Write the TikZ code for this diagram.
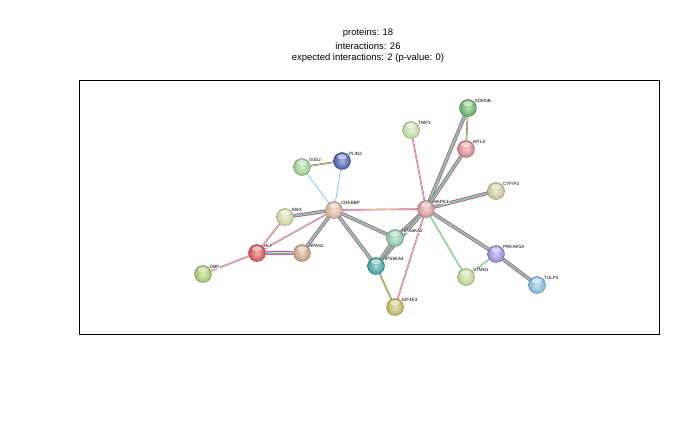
\documentclass[tikz,border=0pt]{standalone}
\usepackage{fontspec}
\setmainfont{Liberation Sans}
\definecolor{cKDM}{RGB}{105,185,100}
\definecolor{cTNIP}{RGB}{200,228,165}
\definecolor{cMYLK}{RGB}{225,140,145}
\definecolor{cPLIN}{RGB}{75,95,185}
\definecolor{cG0S}{RGB}{165,215,150}
\definecolor{cCYF}{RGB}{215,208,160}
\definecolor{cMAX}{RGB}{222,222,170}
\definecolor{cCREB}{RGB}{225,190,160}
\definecolor{cMAPK}{RGB}{222,160,160}
\definecolor{cRPS2}{RGB}{145,210,170}
\definecolor{cNPAS}{RGB}{210,170,130}
\definecolor{cHLF}{RGB}{220,85,85}
\definecolor{cRPS4}{RGB}{65,170,170}
\definecolor{cPRK}{RGB}{165,145,225}
\definecolor{cSTM}{RGB}{200,225,150}
\definecolor{cTUL}{RGB}{135,195,225}
\definecolor{cDBP}{RGB}{170,210,115}
\definecolor{cEIF}{RGB}{200,190,105}
\definecolor{eyel}{RGB}{205,225,80}
\definecolor{emag}{RGB}{225,70,225}
\definecolor{ecya}{RGB}{80,200,230}
\begin{document}
\begin{tikzpicture}[x=1bp,y=-1bp,
  prot/.style={circle,minimum size=17bp,inner sep=0pt,
    inner color=#1!45!white,outer color=#1!92!black,draw=#1!60!black,line width=0.35bp,
    path picture={\fill[white,opacity=0.55] ([yshift=-4.2bp]path picture bounding box.north) ellipse (5bp and 2.6bp);}},
  lbl/.style={font=\fontsize{4.6}{5}\selectfont,inner sep=0.4pt,fill=white,fill opacity=0.75,text opacity=1,anchor=south west},
  ey/.style={draw=emag,line width=0.45bp,double=eyel,double distance=0.7bp},
  ec/.style={draw=ecya,line width=0.6bp},
  eyc/.style={draw=ecya,line width=0.45bp,double=eyel,double distance=0.7bp},
  edy/.style={draw=black!55,line width=0.45bp,double=eyel,double distance=0.7bp},
  em/.style={draw=emag,line width=3.6bp,
    postaction={draw=black!55,line width=2.7bp},
    postaction={draw=eyel,line width=1.8bp},
    postaction={draw=ecya,line width=0.8bp}},
  title/.style={font=\fontsize{9.5}{11}\selectfont,inner sep=0pt}]
\useasboundingbox (0,0) rectangle (700,432);
\fill[white] (0,0) rectangle (700,432);
% title
\node[title] (t1) at (368,33) {proteins: 18};
\node[title] (t2) at (368,46) {interactions: 26};
\node[title] (t3) at (368,58) {expected interactions: 2 (p-value: 0)};
\draw[black,line width=0.8bp] (79,80) rectangle (659,334);
% node anchors (positions)
\foreach \n/\p in {KDM5B/{468,108},TNIP1/{411,130},MYLK/{466,149},PLIN2/{342,161},
  G0S2/{302,167},CYFIP2/{496,191},MAX/{285,217},CREBBP/{334,210},MAPK1/{426,209},
  RPS6KA2/{395,238},NPAS2/{302,253},HLF/{257,253},RPS6KA4/{376,266},PRKAR1A/{496,254},
  STMN1/{466,277},TULP3/{537,285},DBP/{203,274},EIF4E3/{395,307}}
  {\node[circle,minimum size=17bp,inner sep=0pt] (\n) at (\p) {};}
% edges
\path
  (G0S2) edge[edy] (PLIN2)
  (G0S2) edge[ec] (CREBBP)
  (PLIN2) edge[ec] (CREBBP)
  (MAX) edge[em] (CREBBP)
  (MAX) edge[ey] (HLF)
  (HLF) edge[ey] (CREBBP)
  (HLF) edge[em] (NPAS2)
  (HLF) edge[ey] (DBP)
  (NPAS2) edge[em] (CREBBP)
  (CREBBP) edge[ey] (MAPK1)
  (CREBBP) edge[em] (RPS6KA2)
  (CREBBP) edge[em] (RPS6KA4)
  (MAPK1) edge[ey] (TNIP1)
  (MAPK1) edge[em] (KDM5B)
  (MAPK1) edge[em] (MYLK)
  (MYLK) edge[edy] (KDM5B)
  (MAPK1) edge[em] (CYFIP2)
  (MAPK1) edge[em] (RPS6KA2)
  (MAPK1) edge[em] (RPS6KA4)
  (MAPK1) edge[ey] (EIF4E3)
  (MAPK1) edge[eyc] (STMN1)
  (MAPK1) edge[em] (PRKAR1A)
  (PRKAR1A) edge[eyc] (STMN1)
  (PRKAR1A) edge[em] (TULP3)
  (RPS6KA4) edge[edy] (EIF4E3)
  (RPS6KA2) edge[em] (RPS6KA4);
% balls and labels
\foreach \n/\c in {KDM5B/cKDM,TNIP1/cTNIP,MYLK/cMYLK,PLIN2/cPLIN,G0S2/cG0S,CYFIP2/cCYF,
  MAX/cMAX,CREBBP/cCREB,MAPK1/cMAPK,RPS6KA2/cRPS2,NPAS2/cNPAS,HLF/cHLF,RPS6KA4/cRPS4,
  PRKAR1A/cPRK,STMN1/cSTM,TULP3/cTUL,DBP/cDBP,EIF4E3/cEIF}
  {\node[prot=\c] (\n-ball) at (\n.center) {};
   \node[lbl] (\n-lbl) at ([xshift=6.5bp,yshift=5bp]\n.center) {\n};}
\end{tikzpicture}
\end{document}
